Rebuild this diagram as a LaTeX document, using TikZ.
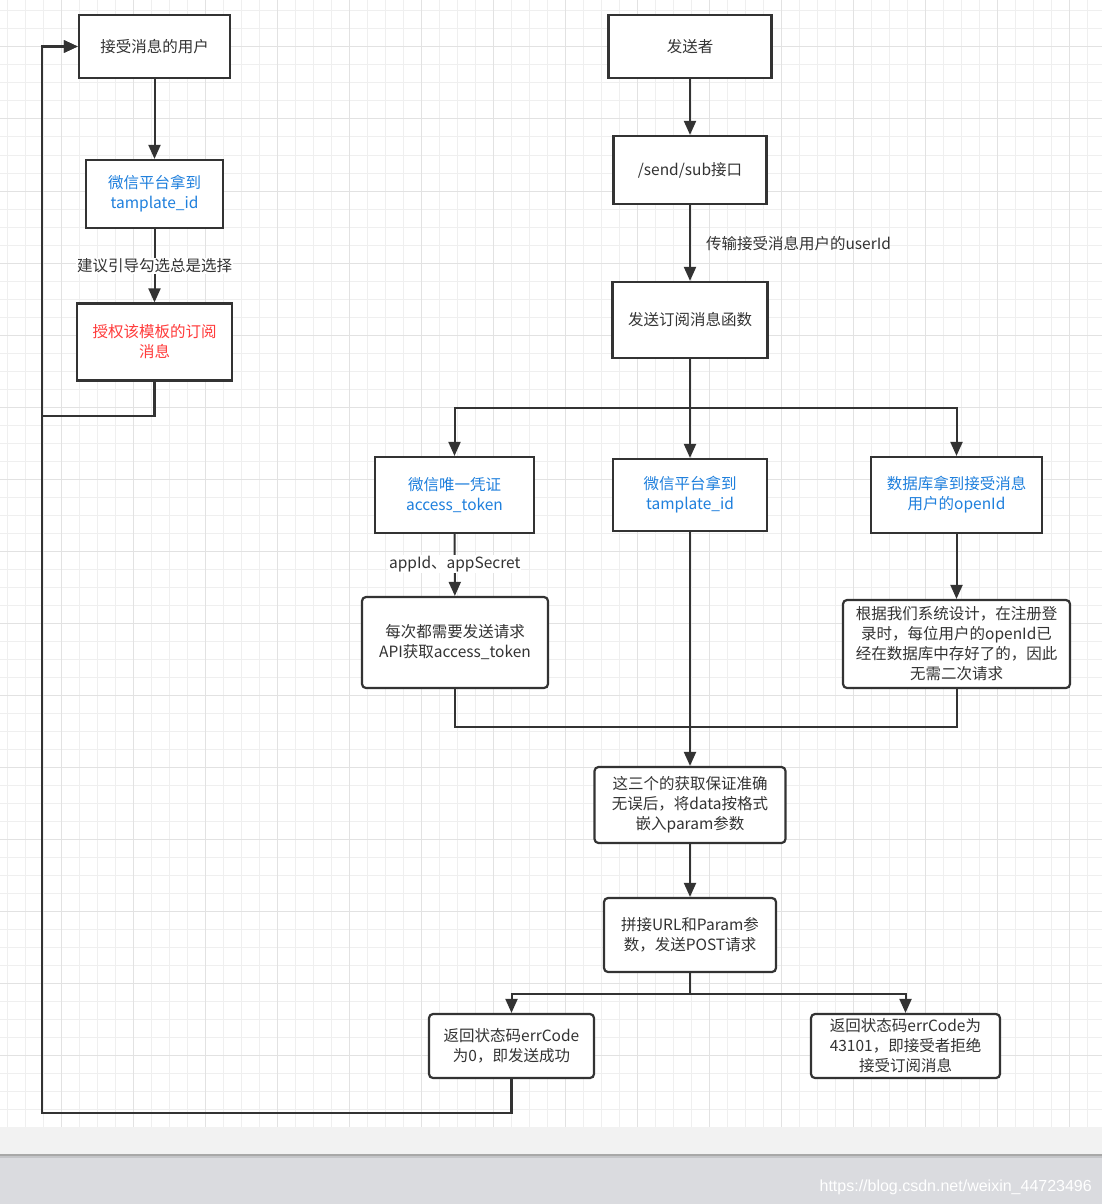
\documentclass[tikz,border=0pt]{standalone}
\usepackage{fontspec}
\setmainfont{Noto Sans CJK SC}
\newfontfamily\wmfont{Liberation Sans}
\usetikzlibrary{arrows.meta,calc}
\definecolor{ln}{HTML}{333333}
\definecolor{txt}{HTML}{333333}
\definecolor{blu}{HTML}{1F80DD}
\definecolor{rd}{HTML}{FF3B3B}
\definecolor{gminor}{HTML}{EFEFEF}
\definecolor{gmajor}{HTML}{E2E2E2}
\definecolor{bandA}{HTML}{F2F2F2}
\definecolor{bandB}{HTML}{DADBDF}
\definecolor{bandC}{HTML}{A8A8A8}
\definecolor{bandD}{HTML}{C4C5C8}
\tikzset{
  fnt/.style={font=\fontsize{15.5}{20}\selectfont},
  sbox/.style={draw=ln, line width=2.2pt, fill=white, align=center, inner sep=0pt, text=txt, fnt},
  rbox/.style={sbox, rounded corners=4pt},
  conn/.style={draw=ln, line width=2pt},
  arr/.style={conn, -{Triangle[length=14pt,width=12pt]}},
  loopl/.style={draw=ln, line width=2.6pt, -{Triangle[length=14pt,width=12pt]}},
  elabel/.style={fill=white, inner sep=1pt, text=txt, fnt},
}
\begin{document}
\begin{tikzpicture}[x=1pt,y=-1pt]
\useasboundingbox (0,0) rectangle (1102,1204);
% background
\fill[white] (0,0) rectangle (1102,1127);
\foreach \i in {0,...,61} {\draw[gminor, line width=1pt] ({7.3+18*\i},0) -- ({7.3+18*\i},1127);}
\foreach \i in {0,...,62} {\draw[gminor, line width=1pt] (0,{11+18*\i}) -- (1102,{11+18*\i});}
\foreach \i in {0,...,15} {\draw[gmajor, line width=1pt] ({61.3+72*\i},0) -- ({61.3+72*\i},1127);}
\foreach \i in {0,...,15} {\draw[gmajor, line width=1pt] (0,{47+72*\i}) -- (1102,{47+72*\i});}
\fill[bandA] (0,1127) rectangle (1102,1154);
\fill[bandB] (0,1154) rectangle (1102,1204);
\fill[bandC] (0,1154) rectangle (1102,1156);
\fill[bandD] (0,1156) rectangle (1102,1158);
\node[anchor=base east, inner sep=0, text=white, font=\wmfont\fontsize{16}{18}\selectfont] (wm) at (1092,1191) {https://blog.csdn.net/weixin\_44723496};

% left column
\node[sbox, minimum width=151pt, minimum height=63pt] (user) at (154.5,46.5) {接受消息的用户};
\node[sbox, minimum width=137pt, minimum height=68pt, text=blu] (tpl1) at (154.5,194) {微信平台拿到\\tamplate\_id};
\node[sbox, minimum width=155pt, minimum height=77pt, text=rd] (auth) at (154.5,342) {授权该模板的订阅\\消息};

% right column
\node[sbox, minimum width=163pt, minimum height=63pt] (sender) at (690,46.5) {发送者};
\node[sbox, minimum width=153pt, minimum height=68pt] (api) at (690,170) {/send/sub接口};
\node[sbox, minimum width=155pt, minimum height=76pt] (fn) at (690,320) {发送订阅消息函数};

\node[sbox, minimum width=159pt, minimum height=76pt, text=blu] (tok) at (454.5,495) {微信唯一凭证\\access\_token};
\node[sbox, minimum width=154pt, minimum height=72pt, text=blu] (tpl2) at (690,495) {微信平台拿到\\tamplate\_id};
\node[sbox, minimum width=171pt, minimum height=76pt, text=blu] (oid) at (956.5,495) {数据库拿到接受消息\\用户的openId};

\node[rbox, minimum width=186pt, minimum height=91pt] (req) at (455,642.5) {每次都需要发送请求\\API获取access\_token};
\node[rbox, minimum width=227pt, minimum height=88pt] (sys) at (956.5,644) {根据我们系统设计，在注册登\\录时，每位用户的openId已\\经在数据库中存好了的，因此\\无需二次请求};

\node[rbox, minimum width=191pt, minimum height=76pt] (chk) at (690,805) {这三个的获取保证准确\\无误后，将data按格式\\嵌入param参数};
\node[rbox, minimum width=172pt, minimum height=74pt] (post) at (690,935) {拼接URL和Param参\\数，发送POST请求};

\node[rbox, minimum width=165pt, minimum height=64pt] (ok) at (511.5,1046) {返回状态码errCode\\为0，即发送成功};
\node[rbox, minimum width=189pt, minimum height=64pt] (rej) at (905.5,1046) {返回状态码errCode为\\43101，即接受者拒绝\\接受订阅消息};

% coordinates
\coordinate (b1) at (690,408);
\coordinate (m1) at (690,727);
\coordinate (b2) at (690,994);
\coordinate (l0) at (42,46.5);
\coordinate (l1) at (42,416);
\coordinate (l2) at (42,1113);

% connectors left
\draw[arr] (user) -- (tpl1);
\draw[arr] (tpl1) -- node[elabel, pos=0.5] (lab1) {建议引导勾选总是选择} (auth);
\draw[loopl] (auth.south) |- (l1) -- (l0) -- (user.west);
\draw[loopl] (ok.south) |- (l2) -- (l0) -- (user.west);

% connectors right
\draw[arr] (sender) -- (api);
\draw[arr] (api) -- node[pos=0.5, anchor=west, inner sep=0pt, xshift=15pt, yshift=-1pt, text=txt, fnt] (lab2) {传输接受消息用户的userId} (fn);
\draw[conn] (fn.south) -- (b1);
\draw[arr] (b1) -| (tok.north);
\draw[arr] (b1) -- (tpl2.north);
\draw[arr] (b1) -| (oid.north);
\draw[arr] (tok) -- node[elabel, pos=0.5, yshift=1pt] (lab3) {appId、appSecret} (req);
\draw[arr] (oid) -- (sys);
\draw[conn] (req.south) |- (m1);
\draw[conn] (sys.south) |- (m1);
\draw[arr] (tpl2.south) -- (chk.north);
\draw[arr] (chk) -- (post);
\draw[conn] (post.south) -- (b2);
\draw[arr] (b2) -| (ok.north);
\draw[arr] (b2) -| (rej.north);
\end{tikzpicture}
\end{document}
